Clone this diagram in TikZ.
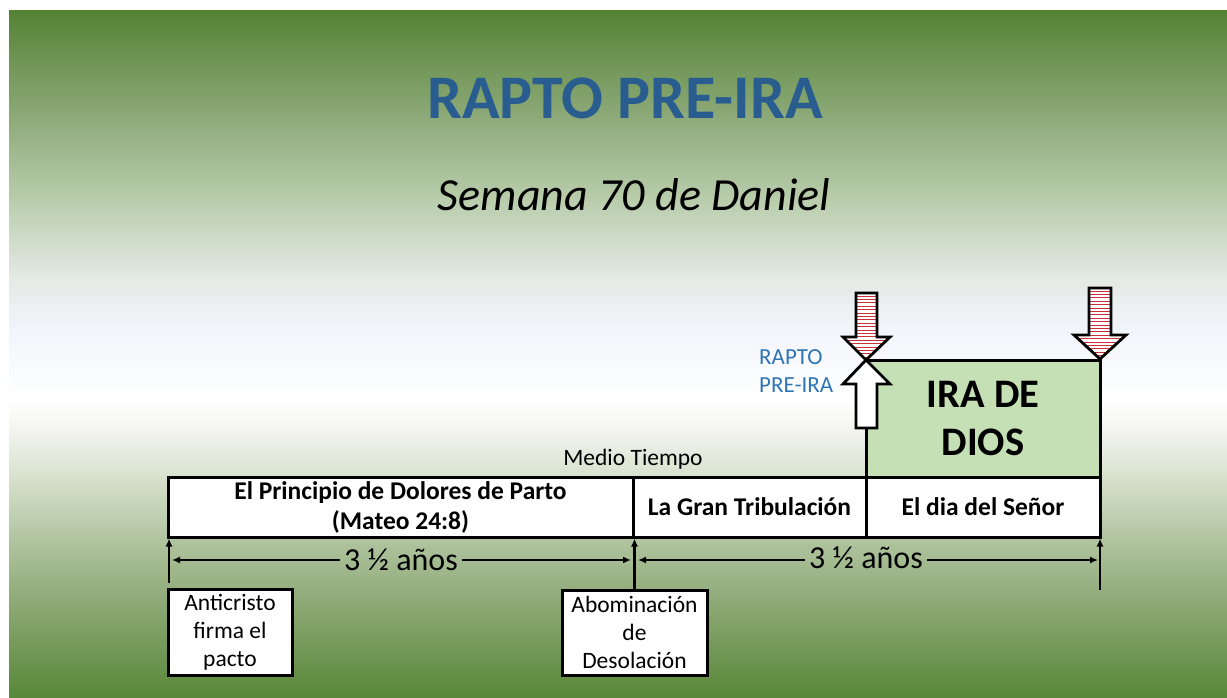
\documentclass[tikz,border=0pt]{standalone}
\usepackage{fontspec}
\setmainfont{Carlito}
\usetikzlibrary{arrows.meta}
\definecolor{titleblue}{HTML}{2A5D8F}
\definecolor{raptoblue}{HTML}{2E75B6}
\definecolor{irafill}{HTML}{C5E0B4}
\definecolor{stripe}{HTML}{C8303A}
\definecolor{ga}{HTML}{548235}
\definecolor{gb}{HTML}{8FAB7B}
\definecolor{gc}{HTML}{B9CDAC}
\definecolor{gd}{HTML}{E4EAE6}
\definecolor{ge}{HTML}{F2F5FB}
\definecolor{gf}{HTML}{FFFFFF}
\definecolor{gg}{HTML}{F3F4EE}
\definecolor{gh}{HTML}{D5E0CB}
\definecolor{gi}{HTML}{B0C49F}
\definecolor{gj}{HTML}{8FAA78}
\definecolor{gk}{HTML}{578737}
\begin{document}
\begin{tikzpicture}[x=1pt,y=-1pt,
  barbox/.style={draw=black,line width=3pt,fill=white,inner sep=0pt,align=center,
    font=\fontsize{25.5}{30}\selectfont\bfseries},
  notebox/.style={draw=black,line width=3pt,fill=white,inner sep=0pt,align=center,
    font=\fontsize{23.5}{28}\selectfont},
  tickline/.style={line width=2.5pt,-{Latex[length=8pt,width=7pt]}},
  dimline/.style={line width=2.5pt,-{Latex[length=8pt,width=7pt]}},
  dimlab/.style={inner sep=4pt,font=\fontsize{32}{36}\selectfont},
  arrowout/.style={draw=black,line width=2.8pt,line join=miter}]
\useasboundingbox (0,0) rectangle (1227,698);
% background
\fill[white] (0,0) rectangle (1227,698);
\foreach \ya/\ca/\yb/\cb in {11/ga/120/gb,120/gb/200/gc,200/gc/280/gd,280/gd/330/ge,330/ge/400/gf,400/gf/430/gg,430/gg/480/gh,480/gh/540/gi,540/gi/600/gj,600/gj/698/gk}
  \shade[top color=\ca,bottom color=\cb] (9,\ya-0.5) rectangle (1227,\yb+0.5);
% titles
\node[font=\fontsize{62}{70}\selectfont\bfseries,text=titleblue] (title) at (625,98) {RAPTO PRE-IRA};
\node[font=\fontsize{46}{52}\selectfont\itshape] (sub) at (634,195) {Semana 70 de Daniel};
% main bar
\node[barbox,minimum width=465pt,minimum height=60pt] (bar1) at (400.5,507) {El Principio de Dolores de Parto\\(Mateo 24:8)};
\node[barbox,minimum width=233pt,minimum height=60pt] (bar2) at (749.5,507) {La Gran Tribulación};
\node[barbox,minimum width=234pt,minimum height=60pt] (bar3) at (983,507) {El dia del Señor};
\node[draw=black,line width=3pt,fill=irafill,inner sep=0pt,align=center,
  minimum width=234pt,minimum height=117pt,font=\fontsize{40.5}{48}\selectfont\bfseries] (ira) at (983,418.5) {IRA DE\\DIOS};
\node[font=\fontsize{23.5}{26}\selectfont,anchor=base] (medio) at (633,465) {Medio Tiempo};
\node[font=\fontsize{23}{28}\selectfont,text=raptoblue,align=left,anchor=west,inner sep=0pt] (rapto) at (759,371) {RAPTO\\PRE-IRA};
% hatched down arrow 1
\begin{scope}
  \clip (856,293) -- (877,293) -- (877,337) -- (890,337) -- (866,360) -- (843,337) -- (856,337) -- cycle;
  \fill[white] (840,290) rectangle (895,362);
  \foreach \k in {0,...,19} \draw[stripe,line width=1pt] (840,296+\k*3.4) -- (895,296+\k*3.4);
\end{scope}
\draw[arrowout] (856,293) -- (877,293) -- (877,337) -- (890,337) -- (866,360) -- (843,337) -- (856,337) -- cycle;
% up arrow
\draw[arrowout,fill=white] (866,360) -- (890,384) -- (877,384) -- (877,428) -- (856,428) -- (856,384) -- (843,384) -- cycle;
% hatched down arrow 2
\begin{scope}
  \clip (1089,288) -- (1111,288) -- (1111,335) -- (1126,335) -- (1100,359) -- (1074,335) -- (1089,335) -- cycle;
  \fill[white] (1070,285) rectangle (1130,362);
  \foreach \k in {0,...,20} \draw[stripe,line width=1pt] (1070,291+\k*3.4) -- (1130,291+\k*3.4);
\end{scope}
\draw[arrowout] (1089,288) -- (1111,288) -- (1111,335) -- (1126,335) -- (1100,359) -- (1074,335) -- (1089,335) -- cycle;
% lower boxes
\node[notebox,minimum width=124pt,minimum height=86pt] (anti) at (230,632) {Anticristo\\firma el\\pacto};
\node[notebox,minimum width=145pt,minimum height=85pt] (abom) at (634.5,632.5) {Abominación\\de\\Desolación};
% ticks
\coordinate (t1b) at (169,583);
\coordinate (t3b) at (1100,590);
\draw[tickline] (t1b) -- (t1b |- bar1.south);
\draw[tickline] (abom.north) -- (abom.north |- bar1.south);
\draw[tickline] (t3b) -- (t3b |- bar3.south);
% dimension lines
\node[dimlab] (d1) at (401,560) {3 ½ años};
\coordinate (d1l) at (172,560);
\coordinate (d1r) at (631,560);
\draw[dimline] (d1) -- (d1l);
\draw[dimline] (d1) -- (d1r);
\node[dimlab] (d2) at (866,558) {3 ½ años};
\coordinate (d2l) at (638,560);
\coordinate (d2r) at (1098,560);
\draw[dimline] (d2.west |- d2l) -- (d2l);
\draw[dimline] (d2.east |- d2r) -- (d2r);
\end{tikzpicture}
\end{document}
